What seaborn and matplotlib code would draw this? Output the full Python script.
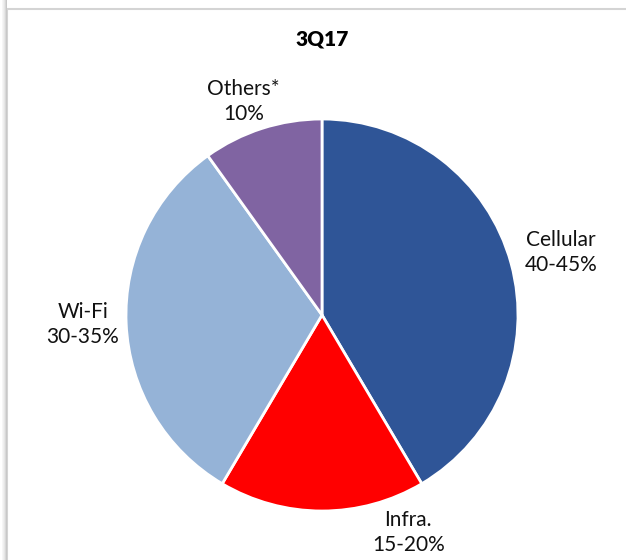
import matplotlib
matplotlib.use("Agg")
import matplotlib.pyplot as plt
import seaborn as sns
from matplotlib.patches import Rectangle

# ------------------ DATOS ------------------
categorias = ["Cellular", "Infra.", "Wi-Fi", "Others*"]
valores = [41.5, 17.0, 31.6, 9.9]
etiquetas = ["Cellular\n40-45%", "Infra.\n15-20%", "Wi-Fi\n30-35%", "Others*\n10%"]
colores = ["#2F5597", "#FF0000", "#95B3D7", "#8064A2"]
titulo = "3Q17"

# posiciones de las etiquetas (en radios, relativo al centro)
pos_etiquetas = [(1.22, 0.32), (0.44, -1.11), (-1.22, -0.05), (-0.40, 1.09)]

# ------------------ GRAFICO ------------------
sns.set_theme(style="white")
plt.rcParams["font.family"] = ["Lato", "DejaVu Sans"]

fig = plt.figure(figsize=(6.26, 5.6), dpi=100)
fig.patch.set_facecolor("white")

# marco gris del area del grafico
fig.patches.append(Rectangle((7 / 626, -0.1), 1.2, (560 - 9) / 560 + 0.1,
                             transform=fig.transFigure, fill=False,
                             edgecolor="#d4d4d4", lw=1.5))
for i, c in enumerate(["#c8c8c8", "#d8d8d8", "#e6e6e6", "#efefef", "#f6f6f6"]):
    fig.patches.append(Rectangle(((6 - i) / 626, -0.1), 1 / 626, 1.2,
                                 transform=fig.transFigure, facecolor=c, lw=0))

ax = fig.add_axes([126 / 626, 49 / 560, 392 / 626, 392 / 560])
ax.pie(valores, colors=colores, startangle=90, counterclock=False,
       wedgeprops=dict(edgecolor="white", linewidth=2), radius=1)
ax.set_xlim(-1, 1)
ax.set_ylim(-1, 1)
ax.set_aspect("equal")
ax.axis("off")

for txt, (x, y) in zip(etiquetas, pos_etiquetas):
    ax.text(x, y, txt, ha="center", va="center", fontsize=15,
            color="#111111", linespacing=1.3, clip_on=False)

fig.text(322 / 626, 1 - 39 / 560, titulo, ha="center", va="center",
         fontsize=15, fontweight="heavy", color="#000000")

plt.savefig("out.png", dpi=100)
plt.close()
